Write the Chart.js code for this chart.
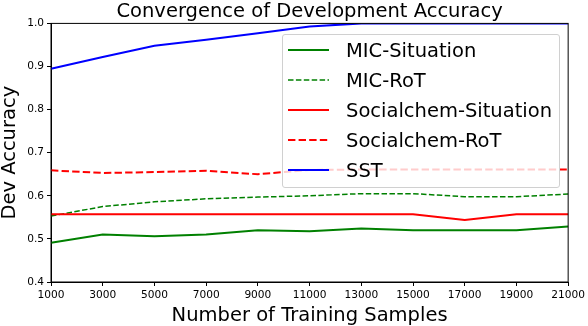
<!DOCTYPE html>
<html>
<head>
<meta charset="utf-8">
<script src="https://cdn.jsdelivr.net/npm/chart.js@4/dist/chart.umd.min.js"></script>
<style>
  body { margin: 0; background: #fff; }
  #wrap { position: relative; width: 588px; height: 326px; }
  #myChart { display: block; }
  #legend {
    position: absolute; left: 282px; top: 34px; width: 278px; height: 154px;
    box-sizing: border-box; border: 1px solid #d0d0d0; border-radius: 3px;
    background: rgba(255, 255, 255, 0.8);
    font-family: 'DejaVu Sans', sans-serif; font-size: 19.5px; color: #000;
  }
  .row { display: flex; align-items: center; height: 30px; padding-left: 5px; white-space: nowrap; }
  .row svg { margin-right: 17px; flex: none; }
</style>
</head>
<body>
<div id="wrap">
  <canvas id="myChart" width="588" height="326"></canvas>
  <div id="legend"></div>
</div>
<script>
// training set sizes (x categories)
const samples = ['1000', '3000', '5000', '7000', '9000', '11000', '13000', '15000', '17000', '19000', '21000'];
const yTicks = [0.4, 0.5, 0.6, 0.7, 0.8, 0.9, 1.0];

// dev accuracy per run
const micSituation = [0.491, 0.510, 0.506, 0.510, 0.520, 0.518, 0.524, 0.520, 0.520, 0.520, 0.529];
const micRot = [0.553, 0.575, 0.586, 0.593, 0.597, 0.600, 0.605, 0.605, 0.598, 0.598, 0.604];
const socialSituation = [0.557, 0.557, 0.557, 0.557, 0.557, 0.557, 0.557, 0.557, 0.544, 0.557, 0.557];
const socialRot = [0.659, 0.653, 0.655, 0.658, 0.650, 0.660, 0.661, 0.661, 0.661, 0.661, 0.661];
const sst = [0.895, 0.922, 0.948, 0.962, 0.977, 0.993, 1.0, 1.0, 1.0, 1.0, 1.0];

const datasets = [
  { label: 'MIC-Situation', data: micSituation, borderColor: '#008000', borderWidth: 2, borderDash: [] },
  { label: 'MIC-RoT', data: micRot, borderColor: '#008000', borderWidth: 1.5, borderDash: [5.5, 2.4] },
  { label: 'Socialchem-Situation', data: socialSituation, borderColor: '#ff0000', borderWidth: 2, borderDash: [] },
  { label: 'Socialchem-RoT', data: socialRot, borderColor: '#ff0000', borderWidth: 2, borderDash: [7.4, 3.2] },
  { label: 'SST', data: sst, borderColor: '#0000ff', borderWidth: 2, borderDash: [] }
].map((d, i) => Object.assign(d, { pointRadius: 0, tension: 0, fill: false, order: datasets_order(i) }));

function datasets_order(i) {
  // later series drawn on top, like matplotlib
  return 10 - i;
}

// box round the plot area (top and right spines)
const frame = {
  id: 'frame',
  afterDatasetsDraw(chart) {
    const { ctx, chartArea: a } = chart;
    ctx.save();
    ctx.strokeStyle = '#000';
    ctx.lineWidth = 1;
    ctx.strokeRect(a.left, a.top, a.right - a.left, a.bottom - a.top);
    ctx.restore();
  }
};

Chart.defaults.font.family = "'DejaVu Sans', sans-serif";
Chart.defaults.color = '#000';

const ctx = document.getElementById('myChart');
new Chart(ctx, {
  type: 'line',
  data: { labels: samples, datasets: datasets },
  plugins: [frame],
  options: {
    responsive: false,
    animation: false,
    devicePixelRatio: 1,
    layout: { padding: { left: 0, right: 17, top: 0, bottom: 0 } },
    plugins: {
      legend: { display: false },
      tooltip: { enabled: false },
      title: {
        display: true,
        text: 'Convergence of Development Accuracy',
        fullSize: false,
        font: { size: 19.5, weight: 'normal', lineHeight: 1.2 },
        padding: { top: 0, bottom: 0 }
      }
    },
    scales: {
      x: {
        type: 'category',
        offset: false,
        afterFit: s => { s.height = 44; },
        grid: { display: true, drawOnChartArea: false, drawTicks: true, tickLength: 4, color: '#000' },
        border: { display: true, color: '#000', width: 1 },
        ticks: { autoSkip: false, maxRotation: 0, padding: 3, font: { size: 10.6 } },
        title: { display: true, text: 'Number of Training Samples', font: { size: 19.5, lineHeight: 1.0 }, padding: 0 }
      },
      y: {
        min: 0.4,
        max: 1.0,
        afterFit: s => { s.width = 51; },
        afterBuildTicks: s => { s.ticks = yTicks.map(v => ({ value: v })); },
        grid: { display: true, drawOnChartArea: false, drawTicks: true, tickLength: 4, color: '#000' },
        border: { display: true, color: '#000', width: 1 },
        ticks: { padding: 3, font: { size: 10.6 }, callback: v => v.toFixed(1) },
        title: { display: true, text: 'Dev Accuracy', font: { size: 19.5, lineHeight: 1.0 }, padding: 0 }
      }
    }
  }
});

// legend as html on top of the plot, semi-transparent like matplotlib
const legend = document.getElementById('legend');
datasets.forEach(d => {
  const row = document.createElement('div');
  row.className = 'row';
  row.innerHTML =
    '<svg width="41" height="6"><line x1="0" y1="3" x2="41" y2="3" stroke="' + d.borderColor +
    '" stroke-width="' + d.borderWidth + '" stroke-dasharray="' + (d.borderDash.length ? d.borderDash.join(' ') : 'none') +
    '"/></svg><span>' + d.label + '</span>';
  legend.appendChild(row);
});
</script>
</body>
</html>
